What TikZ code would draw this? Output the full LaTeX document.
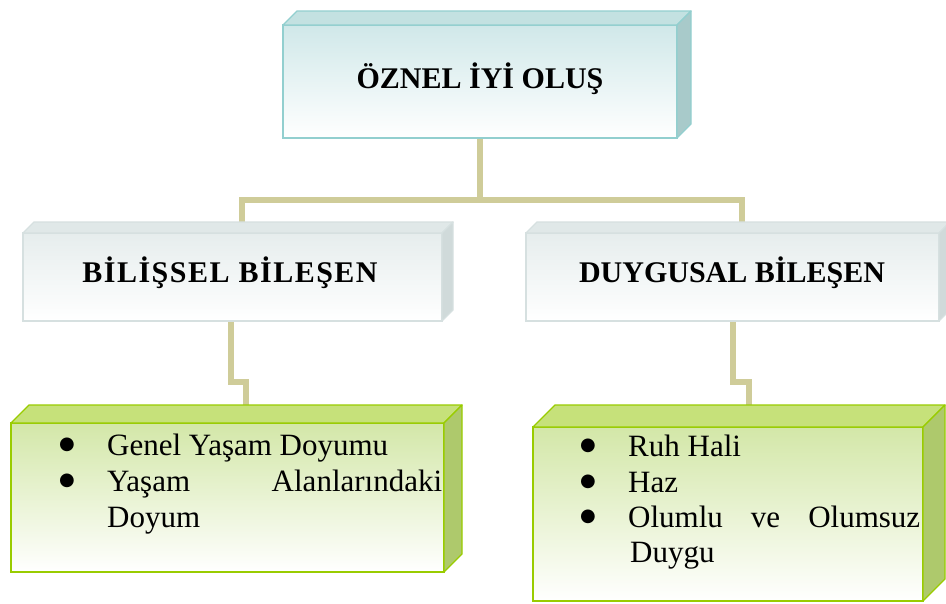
\documentclass[tikz,border=0pt]{standalone}
\usepackage{fontspec}
\setmainfont{Liberation Serif}
\newfontfamily\symfont{DejaVu Sans}
\usetikzlibrary{calc}
\pgfdeclarelayer{bg}
\pgfsetlayers{bg,main}
\definecolor{conn}{HTML}{CFCC99}
\definecolor{tealtop}{HTML}{D0E8E9}
\definecolor{tealface}{HTML}{C3E1E1}
\definecolor{tealside}{HTML}{A8CACA}
\definecolor{tealline}{HTML}{92CFCF}
\definecolor{graytop}{HTML}{E6EDED}
\definecolor{grayface}{HTML}{E0E8E8}
\definecolor{grayside}{HTML}{D0DADA}
\definecolor{grayline}{HTML}{D6E0E0}
\definecolor{greentop}{HTML}{D3E7A8}
\definecolor{greenface}{HTML}{C6E17A}
\definecolor{greenside}{HTML}{AEC96C}
\definecolor{greenline}{HTML}{99CC00}
\newcommand\mycuboid[5]{%
  \filldraw[fill=#3,draw=#5,line width=1.3pt,line join=round]
    (#1.north west) -- ++(#2,-#2) -- ($(#1.north east)+(#2,-#2)$) -- (#1.north east) -- cycle;
  \filldraw[fill=#4,draw=#5,line width=1.3pt,line join=round]
    (#1.north east) -- ++(#2,-#2) -- ($(#1.south east)+(#2,-#2)$) -- (#1.south east) -- cycle;
}
\tikzset{
  face/.style={rectangle, anchor=north west, inner sep=0pt, outer sep=0pt, line width=1.3pt},
  tealbox/.style={face, draw=tealline, top color=tealtop, bottom color=white},
  graybox/.style={face, draw=grayline, top color=graytop, bottom color=white},
  greenbox/.style={face, draw=greenline, line width=2pt, top color=greentop, bottom color=white},
  head/.style={anchor=base, inner sep=0pt, font=\fontsize{30}{36}\selectfont\bfseries},
  conline/.style={draw=conn, line width=6pt, line join=miter},
  itemtext/.style={anchor=base west, inner sep=0pt, font=\fontsize{31}{36}\selectfont},
  bul/.style={anchor=base, inner sep=0pt, font=\symfont\fontsize{18}{20}\selectfont}
}
\begin{document}
\begin{tikzpicture}[x=1pt,y=-1pt]
\begin{pgfonlayer}{bg}
\fill[white] (0,0) rectangle (946,603);
\end{pgfonlayer}
\useasboundingbox (0,0) rectangle (946,603);

% boxes
\node[tealbox, minimum width=394pt, minimum height=113pt] (oz) at (283,25) {};
\mycuboid{oz}{14}{tealface}{tealside}{tealline}
\node[head] (ozt) at (480,88) {ÖZNEL İYİ OLUŞ};

\node[graybox, minimum width=419pt, minimum height=88pt] (bil) at (23,233) {};
\mycuboid{bil}{11}{grayface}{grayside}{grayline}
\node[head, font=\fontsize{30}{36}\selectfont\bfseries\addfontfeature{LetterSpace=5}] (bilt) at (230,282) {BİLİŞSEL BİLEŞEN};

\node[graybox, minimum width=413pt, minimum height=88pt] (duy) at (526,233) {};
\mycuboid{duy}{11}{grayface}{grayside}{grayline}
\node[head] (duyt) at (732,282) {DUYGUSAL BİLEŞEN};

\node[greenbox, minimum width=433pt, minimum height=149pt] (bl) at (11,423) {};
\mycuboid{bl}{18}{greenface}{greenside}{greenline}

\node[greenbox, minimum width=390pt, minimum height=174pt] (br) at (533,427) {};
\mycuboid{br}{22}{greenface}{greenside}{greenline}

% connectors
\coordinate (hubL) at (242,200);
\coordinate (hubR) at (742,200);
\coordinate (jogL) at (246,382);
\coordinate (jogR) at (749,382);
\begin{pgfonlayer}{bg}
\draw[conline] (oz.south) -- (oz.south |- hubL);
\draw[conline] (hubL |- bil.north) -- (hubL) -- (hubR) -- (hubR |- duy.north);
\draw[conline] ([xshift=-2pt]bil.south) |- (jogL) -- (jogL |- bl.north);
\draw[conline] (duy.south) |- (jogR) -- (jogR |- br.north);
\end{pgfonlayer}

% left list
\node[bul] (lb1) at (67,449) {●};
\node[itemtext] (lt1) at (107,455) {Genel Yaşam Doyumu};
\node[bul] (lb2) at (67,485) {●};
\node[itemtext] (lt2) at (107,491) {\hbox to 335pt{Yaşam\hfill Alanlarındaki}};
\node[itemtext] (lt3) at (107,527) {Doyum};

% right list
\node[bul] (rb1) at (588,450) {●};
\node[itemtext] (rt1) at (628,456) {Ruh Hali};
\node[bul] (rb2) at (588,486) {●};
\node[itemtext] (rt2) at (628,492) {Haz};
\node[bul] (rb3) at (588,521) {●};
\node[itemtext] (rt3) at (628,527) {\hbox to 292pt{Olumlu\hfill ve\hfill Olumsuz}};
\node[itemtext] (rt4) at (630,562) {Duygu};
\end{tikzpicture}
\end{document}
